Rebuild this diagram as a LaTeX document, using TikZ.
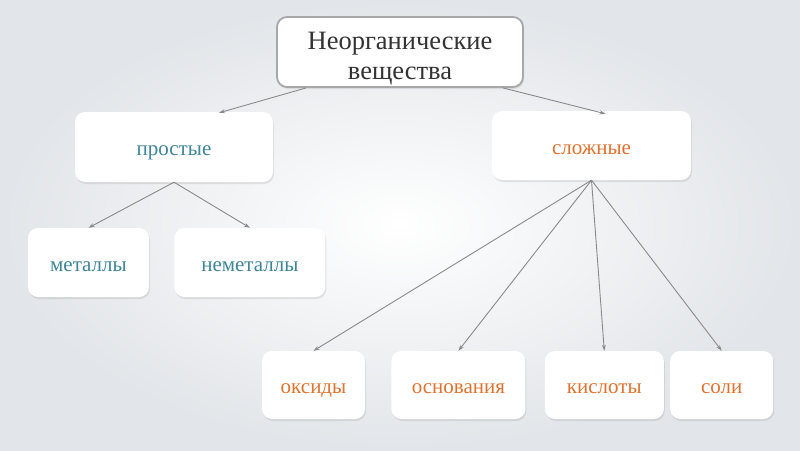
\documentclass[tikz,border=0pt]{standalone}
\usepackage{fontspec}
\setmainfont{Liberation Serif}
\usepackage{tikz}
\usetikzlibrary{arrows.meta, positioning, shadows}
\definecolor{bg-edge}{HTML}{E2E5E9}
\definecolor{frame-gray}{HTML}{A8A8A8}
\definecolor{text-dark}{HTML}{333333}
\definecolor{text-teal}{HTML}{3F8599}
\definecolor{text-orange}{HTML}{E0722F}
\definecolor{arrow-gray}{HTML}{8A8A8A}

\begin{document}
\begin{tikzpicture}[
    x=1pt, y=-1pt,
    box/.style={fill=white, rounded corners=10pt, align=center, inner sep=0pt,
        drop shadow={opacity=0.18, shadow xshift=1pt, shadow yshift=-2pt}},
    topbox/.style={box, draw=frame-gray, line width=1.8pt, font=\fontsize{26.5}{30}\selectfont,
        text=text-dark, text height=59pt, text depth=5pt},
    leafbox/.style={box, font=\fontsize{21}{24}\selectfont, text height=19pt, text depth=2pt},
    tealbox/.style={leafbox, text=text-teal},
    orangebox/.style={leafbox, text=text-orange},
    arrow/.style={-{Stealth[length=6pt, width=4pt]}, line width=0.9pt, arrow-gray}
]
    \useasboundingbox (0,0) rectangle (800,450);
    \shade[inner color=white, outer color=bg-edge] (0,0) rectangle (800,450);

    \node[topbox, minimum width=246pt, minimum height=70pt] (root) at (400,52) {Неорганические\\вещества};
    \node[tealbox, minimum width=198pt, minimum height=70pt] (simple) at (174,147) {простые};
    \node[orangebox, minimum width=199pt, minimum height=69pt] (complex) at (591.5,145.5) {сложные};

    \node[tealbox, minimum width=121pt, minimum height=69pt] (metals) at (88.5,262.5) {металлы};
    \node[tealbox, minimum width=151pt, minimum height=69pt, right=25pt of metals] (nonmetals) {неметаллы};

    \node[orangebox, minimum width=103pt, minimum height=68pt] (oxides) at (313.5,385) {оксиды};
    \node[orangebox, minimum width=134pt, minimum height=68pt, right=26pt of oxides] (bases) {основания};
    \node[orangebox, minimum width=119pt, minimum height=68pt, right=19pt of bases] (acids) {кислоты};
    \node[orangebox, minimum width=103pt, minimum height=68pt, right=6pt of acids] (salts) {соли};

    \draw[arrow] ([xshift=30pt]root.south west) -- ([xshift=45pt, yshift=-1pt]simple.north);
    \draw[arrow] ([xshift=-21pt]root.south east) -- ([xshift=14pt, yshift=-3pt]complex.north);

    \draw[arrow] (simple.south) -- (metals.north);
    \draw[arrow] (simple.south) -- (nonmetals.north);

    \draw[arrow] (complex.south) -- (oxides.north);
    \draw[arrow] (complex.south) -- (bases.north);
    \draw[arrow] (complex.south) -- (acids.north);
    \draw[arrow] (complex.south) -- (salts.north);
\end{tikzpicture}
\end{document}
